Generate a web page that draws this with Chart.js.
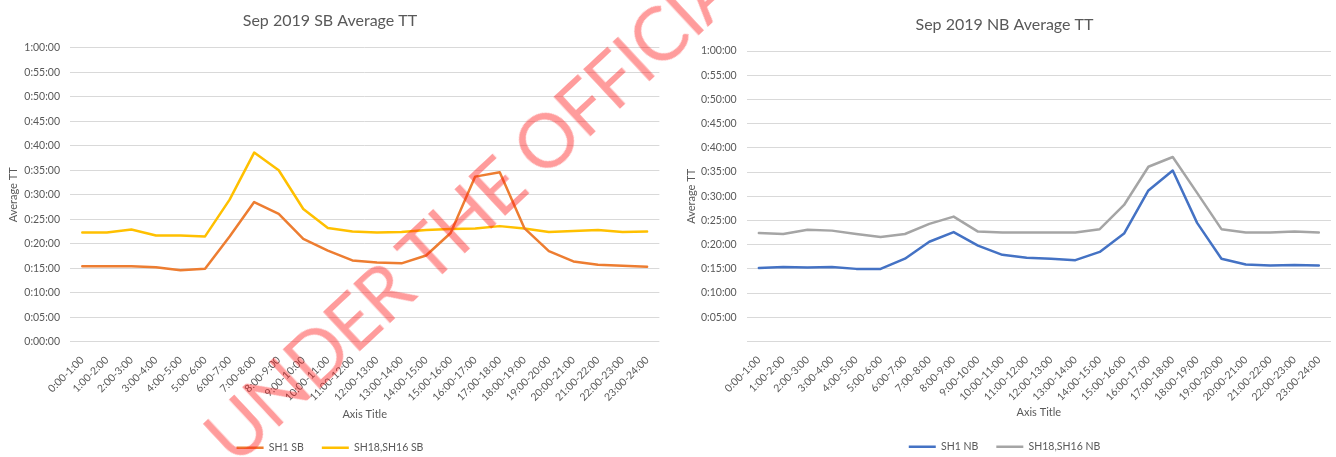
<!DOCTYPE html>
<html><head><meta charset="utf-8">
<script src="https://cdn.jsdelivr.net/npm/chart.js@4.4.1/dist/chart.umd.min.js"></script>
<style>
html,body{margin:0;padding:0;background:#fff;width:1336px;height:457px;overflow:hidden;position:relative;}
#w1{position:absolute;left:0;top:0;width:660px;height:457px;}
#w2{position:absolute;left:668px;top:0;width:668px;height:457px;}
#wm{position:absolute;left:546px;top:138px;width:0;height:0;transform:rotate(-43deg);transform-origin:0 0;pointer-events:none;z-index:5;}
#wm span{position:absolute;top:0;left:0;white-space:nowrap;font-family:Lato,sans-serif;font-weight:400;font-size:75px;letter-spacing:-2px;line-height:1;color:rgba(255,20,20,0.42);}
</style></head>
<body>
<div id="w1"><canvas id="c1" width="660" height="457"></canvas></div>
<div id="w2"><canvas id="c2" width="668" height="457"></canvas></div>
<div id="wm"><span id="wmt">UNDER THE OFFICIAL</span></div>
<script>
// Hour-band categories (x tick labels)
const hours = ['0:00-1:00','1:00-2:00','2:00-3:00','3:00-4:00','4:00-5:00','5:00-6:00','6:00-7:00','7:00-8:00','8:00-9:00','9:00-10:00','10:00-11:00','11:00-12:00','12:00-13:00','13:00-14:00','14:00-15:00','15:00-16:00','16:00-17:00','17:00-18:00','18:00-19:00','19:00-20:00','20:00-21:00','21:00-22:00','22:00-23:00','23:00-24:00'];

// Average travel time, minutes
const sh1SB   = [15.4,15.4,15.4,15.2,14.6,14.9,21.5,28.5,26.1,21.0,18.6,16.6,16.2,16.0,17.6,22.2,33.7,34.6,23.2,18.5,16.4,15.7,15.5,15.3];
const sh18SB  = [22.3,22.3,22.9,21.7,21.7,21.5,29.0,38.6,35.0,27.1,23.2,22.5,22.3,22.4,22.8,23.0,23.1,23.6,23.1,22.4,22.6,22.8,22.4,22.5];
const sh1NB   = [15.2,15.4,15.3,15.4,15.0,15.0,17.1,20.6,22.6,19.8,17.9,17.3,17.1,16.8,18.5,22.3,31.2,35.3,24.5,17.1,15.9,15.7,15.8,15.7];
const sh18NB  = [22.4,22.2,23.1,22.9,22.2,21.6,22.2,24.3,25.8,22.7,22.5,22.5,22.5,22.5,23.2,28.2,36.1,38.1,30.7,23.2,22.5,22.5,22.7,22.5];

const yTickMinutes = [0,5,10,15,20,25,30,35,40,45,50,55,60];

const TXT = '#595959';
const GRID = '#d9d9d9';
const FONT = 'Lato';

function fmt(m){
  const h = Math.floor(m/60), mm = m%60;
  return h + ':' + String(mm).padStart(2,'0') + ':00';
}

function makeChart(id, cfg){
  const ds = cfg.series.map(s => ({
    label: s.label, data: s.data, borderColor: s.color, backgroundColor: s.color,
    borderWidth: 2.5, pointRadius: 0, pointHoverRadius: 0, tension: 0, fill: false,
    borderJoinStyle: 'round', borderCapStyle: 'round'
  }));
  return new Chart(document.getElementById(id), {
    type: 'line',
    data: { labels: hours, datasets: ds },
    options: {
      responsive: false, animation: false, events: [],
      layout: { padding: cfg.pad },
      plugins: {
        title: { display: true, text: cfg.title, color: TXT,
          font: { family: FONT, size: 16, weight: 'normal', lineHeight: 1.2 },
          padding: cfg.titlePad },
        legend: { position: 'bottom',
          labels: { usePointStyle: true, pointStyle: 'line', pointStyleWidth: 27,
            padding: 18, color: TXT, font: { family: FONT, size: 10.5 } } },
        tooltip: { enabled: false }
      },
      scales: {
        x: {
          type: 'category', offset: true,
          grid: { display: false }, border: { display: false },
          ticks: { minRotation: 45, maxRotation: 45, autoSkip: false, color: TXT,
            font: { family: FONT, size: 10.5 }, padding: 4 },
          title: { display: true, text: 'Axis Title', color: TXT,
            font: { family: FONT, size: 11, lineHeight: 1.2 }, padding: { top: 0, bottom: cfg.xTitleBottom } },
          afterFit: s => { s.height = cfg.xHeight; }
        },
        y: {
          min: 0, max: 60,
          afterBuildTicks: s => { s.ticks = yTickMinutes.map(v => ({ value: v })); },
          grid: { color: GRID, lineWidth: 1, drawTicks: false },
          border: { display: false },
          ticks: { color: TXT, font: { family: FONT, size: 10.5 }, padding: 10,
            callback: v => (cfg.hideZero && v === 0) ? '' : fmt(v) },
          title: { display: true, text: 'Average TT', color: TXT,
            font: { family: FONT, size: 11, lineHeight: 1.2 }, padding: { top: 6.4, bottom: 0 } },
          afterFit: s => { s.width = cfg.yWidth; }
        }
      }
    }
  });
}

makeChart('c1', {
  title: 'Sep 2019 SB Average TT',
  series: [ { label: 'SH1 SB', data: sh1SB, color: '#ED7D31' },
            { label: 'SH18,SH16 SB', data: sh18SB, color: '#FFC000' } ],
  pad: { left: 0, right: 0, top: 0, bottom: -6 },
  titlePad: { top: 11, bottom: 17.5 },
  xHeight: 82.7, xTitleBottom: 3.4, yWidth: 70, hideZero: false
});

makeChart('c2', {
  title: 'Sep 2019 NB Average TT',
  series: [ { label: 'SH1 NB', data: sh1NB, color: '#4472C4' },
            { label: 'SH18,SH16 NB', data: sh18NB, color: '#A5A5A5' } ],
  pad: { left: 10, right: 5, top: 0, bottom: -5 },
  titlePad: { top: 15, bottom: 16.8 },
  xHeight: 82, xTitleBottom: 4.4, yWidth: 68.7, hideZero: true
});

// watermark placement: centre the "O" of OFFICIAL on the anchor
(function(){
  const m = document.createElement('canvas').getContext('2d');
  m.font = '400 75px Lato';
  const prefix = 'UNDER THE ';
  const off = m.measureText(prefix).width - 2 * prefix.length + (m.measureText('O').width - 2) / 2;
  document.getElementById('wmt').style.transform = 'translate(' + (-off) + 'px,-50%)';
})();
</script>
</body></html>
